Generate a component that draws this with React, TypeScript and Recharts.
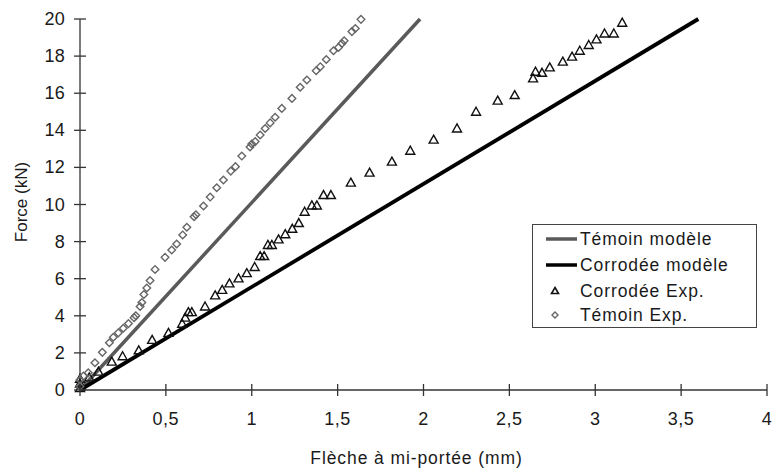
import { ComposedChart, Line, Scatter, XAxis, YAxis, Legend } from "recharts";

const FONT = "'Liberation Sans', Arial, sans-serif";

// model lines: start and end points
const temoinModele = [
  { x: 0, y: 0 },
  { x: 1.98, y: 20 },
];
const corrodeeModele = [
  { x: 0, y: 0 },
  { x: 3.6, y: 20 },
];

// experimental points (flèche mm, force kN)
const temoinExpX = [
  0, 0, 0.02, 0.048, 0.087, 0.13, 0.171, 0.194, 0.223, 0.252, 0.282, 0.315, 0.325,
  0.35, 0.36, 0.372, 0.389, 0.408, 0.437, 0.495, 0.534, 0.563, 0.598, 0.622, 0.664,
  0.675, 0.719, 0.758, 0.796, 0.835, 0.878, 0.905, 0.942, 0.99, 1.0, 1.02, 1.049,
  1.078, 1.107, 1.136, 1.175, 1.234, 1.282, 1.321, 1.375, 1.399, 1.434, 1.476, 1.505,
  1.525, 1.538, 1.583, 1.603, 1.636,
];
const temoinExpY = [
  0.2, 0.54, 0.75, 0.93, 1.47, 2.03, 2.55, 2.84, 3.08, 3.33, 3.58, 3.9, 4.0,
  4.5, 4.72, 5.15, 5.5, 5.9, 6.5, 7.15, 7.55, 7.87, 8.36, 8.77, 9.34,
  9.45, 9.92, 10.4, 10.9, 11.32, 11.8, 12.04, 12.61, 13.1, 13.26, 13.39, 13.75,
  14.1, 14.4, 14.7, 15.18, 15.72, 16.32, 16.71, 17.21, 17.43, 17.82, 18.29, 18.47,
  18.68, 18.83, 19.32, 19.49, 19.98,
];

const corrodeeExpX = [
  0, 0, 0, 0.054, 0.107, 0.185, 0.248, 0.342, 0.42, 0.515, 0.595, 0.613, 0.631,
  0.651, 0.728, 0.787, 0.828, 0.87, 0.923, 0.971, 1.017, 1.049, 1.072, 1.094, 1.117,
  1.156, 1.195, 1.236, 1.274, 1.308, 1.35, 1.379, 1.418, 1.461, 1.577, 1.686, 1.816,
  1.923, 2.059, 2.195, 2.306, 2.432, 2.531, 2.638, 2.652, 2.69, 2.735, 2.811, 2.865,
  2.91, 2.962, 3.007, 3.054, 3.108, 3.157,
];
const corrodeeExpY = [
  0.1, 0.35, 0.6, 0.68, 0.99, 1.53, 1.82, 2.14, 2.7, 3.08, 3.57, 3.9, 4.2,
  4.2, 4.5, 5.1, 5.4, 5.75, 6.02, 6.3, 6.63, 7.22, 7.22, 7.82, 7.82,
  8.12, 8.4, 8.69, 9.0, 9.61, 9.95, 9.95, 10.51, 10.51, 11.18, 11.72, 12.31,
  12.9, 13.5, 14.1, 15.0, 15.6, 15.9, 16.8, 17.16, 17.1, 17.39, 17.7, 17.97,
  18.29, 18.6, 18.9, 19.22, 19.22, 19.8,
];

const xTicks = [0, 0.5, 1, 1.5, 2, 2.5, 3, 3.5, 4];
const yTicks = [0, 2, 4, 6, 8, 10, 12, 14, 16, 18, 20];

const temoinExp = temoinExpX.map((x, i) => ({ x, y: temoinExpY[i] }));
const corrodeeExp = corrodeeExpX.map((x, i) => ({ x, y: corrodeeExpY[i] }));

const AXIS = "#333";
const TEXT = "#1a1a1a";

function XTick(props: any) {
  const { x, y, payload } = props;
  return (
    <g>
      <line x1={x} y1={y - 6} x2={x} y2={y + 6} stroke={AXIS} strokeWidth={1.3} />
      <text x={x} y={y + 35} textAnchor="middle" fontFamily={FONT} fontSize={18}
        letterSpacing={0.5} fill={TEXT}>
        {String(payload.value).replace(".", ",")}
      </text>
    </g>
  );
}

function YTick(props: any) {
  const { x, y, payload } = props;
  return (
    <g>
      <line x1={x - 6} y1={y} x2={x + 6} y2={y} stroke={AXIS} strokeWidth={1.3} />
      <text x={x - 15} y={y + 6} textAnchor="end" fontFamily={FONT} fontSize={18}
        letterSpacing={0.3} fill={TEXT}>
        {payload.value}
      </text>
    </g>
  );
}

function Triangle(props: any) {
  const { cx, cy } = props;
  if (cx == null || cy == null) return null;
  return (
    <path d={`M${cx},${cy - 4.5}L${cx + 4.5},${cy + 3.5}L${cx - 4.5},${cy + 3.5}Z`}
      fill="none" stroke="#111" strokeWidth={1.4} />
  );
}

function Diamond(props: any) {
  const { cx, cy } = props;
  if (cx == null || cy == null) return null;
  return (
    <path d={`M${cx},${cy - 3.8}L${cx + 3.8},${cy}L${cx},${cy + 3.8}L${cx - 3.8},${cy}Z`}
      fill="none" stroke="#666" strokeWidth={1.4} />
  );
}

function LegendBox() {
  const rows = [
    { name: "Témoin modèle", kind: "line", color: "#5a5a5a" },
    { name: "Corrodée modèle", kind: "line", color: "#000" },
    { name: "Corrodée Exp.", kind: "tri", color: "#111" },
    { name: "Témoin Exp.", kind: "dia", color: "#666" },
  ];
  const base = [21, 47, 73, 97];
  return (
    <svg width={225} height={104} style={{ display: "block" }}>
      <rect x={0.5} y={0.5} width={224} height={103} fill="#fff" stroke="#444" strokeWidth={1} />
      {rows.map((r, i) => {
        const cy = base[i] - 6;
        return (
          <g key={r.name}>
            {r.kind === "line" && (
              <line x1={14} y1={cy} x2={45} y2={cy} stroke={r.color} strokeWidth={3.5} />
            )}
            {r.kind === "tri" && (
              <path d={`M23,${cy - 3.5}L26.5,${cy + 2.5}L19.5,${cy + 2.5}Z`} fill="none"
                stroke={r.color} strokeWidth={1.6} />
            )}
            {r.kind === "dia" && (
              <path d={`M23,${cy - 3}L26,${cy}L23,${cy + 3}L20,${cy}Z`} fill="none"
                stroke={r.color} strokeWidth={1.4} />
            )}
            <text x={48} y={base[i]} fontFamily={FONT} fontSize={17.5} letterSpacing={0.9}
              fill={TEXT}>
              {r.name}
            </text>
          </g>
        );
      })}
    </svg>
  );
}

export default function App() {
  return (
    <div style={{ position: "absolute", left: 0, top: 0 }}>
      <ComposedChart width={773} height={470} margin={{ top: 19, right: 6, bottom: 0, left: 0 }}>
        <XAxis
          dataKey="x"
          type="number"
          domain={[0, 4]}
          ticks={xTicks}
          height={80}
          tickSize={0}
          tickMargin={0}
          tickLine={false}
          tick={<XTick />}
          axisLine={{ stroke: AXIS, strokeWidth: 1.3 }}
          label={{
            content: (p: any) => {
              const vb = p.viewBox;
              return (
                <text x={vb.x + vb.width / 2 - 7} y={vb.y + vb.height - 6} textAnchor="middle"
                  fontFamily={FONT} fontSize={17.5} letterSpacing={0.9} fill={TEXT}>
                  Flèche à mi-portée (mm)
                </text>
              );
            },
          }}
        />
        <YAxis
          dataKey="y"
          type="number"
          domain={[0, 20]}
          ticks={yTicks}
          width={80}
          tickSize={0}
          tickMargin={0}
          tickLine={false}
          tick={<YTick />}
          axisLine={{ stroke: AXIS, strokeWidth: 1.3 }}
          label={{
            content: () => (
              <text x={27} y={202} transform="rotate(-90, 27, 202)" textAnchor="middle"
                fontFamily={FONT} fontSize={17} fill={TEXT}>
                Force (kN)
              </text>
            ),
          }}
        />
        <Legend
          layout="vertical"
          align="center"
          verticalAlign="middle"
          wrapperStyle={{ left: 532, top: 224, width: 225, height: 104 }}
          content={() => <LegendBox />}
        />
        <Line data={temoinModele} dataKey="y" stroke="#5a5a5a" strokeWidth={3.5} dot={false}
          activeDot={false} isAnimationActive={false} name="Témoin modèle" />
        <Line data={corrodeeModele} dataKey="y" stroke="#000" strokeWidth={3.8} dot={false}
          activeDot={false} isAnimationActive={false} name="Corrodée modèle" />
        <Scatter data={corrodeeExp} dataKey="y" shape={<Triangle />} isAnimationActive={false}
          name="Corrodée Exp." />
        <Scatter data={temoinExp} dataKey="y" shape={<Diamond />} isAnimationActive={false}
          name="Témoin Exp." />
      </ComposedChart>
    </div>
  );
}
